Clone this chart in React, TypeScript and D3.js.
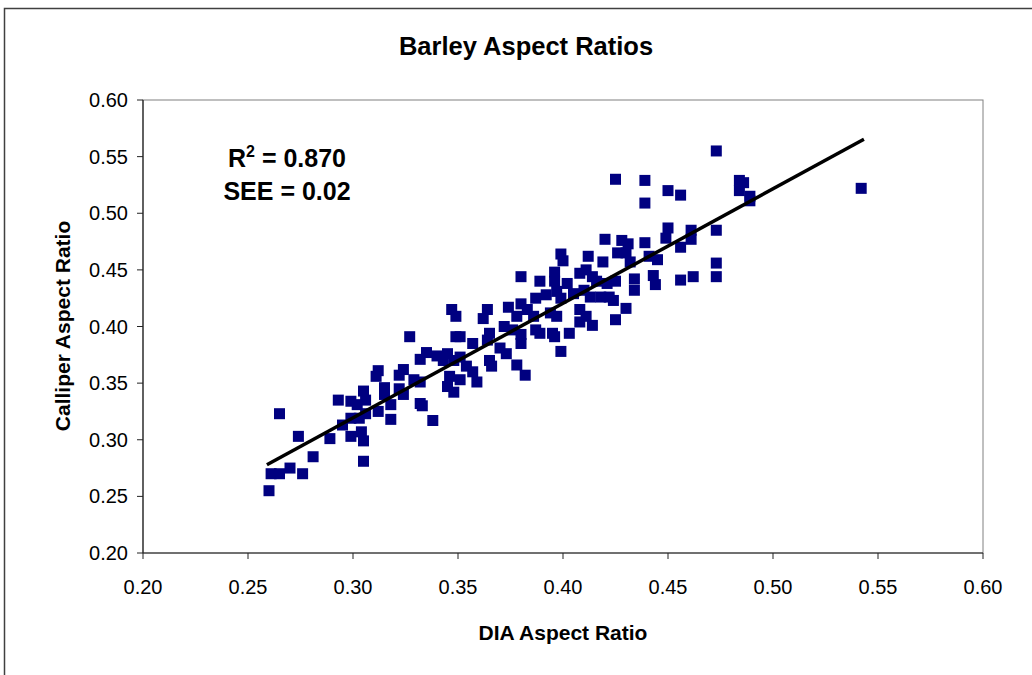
import * as d3 from 'd3';

// DIA aspect ratio (x) and calliper aspect ratio (y)
const dia = [
	0.420, 0.428, 0.431, 0.439, 0.441, 0.399, 0.400, 0.412, 0.419, 0.426, 0.430, 0.432,
	0.380, 0.389, 0.396, 0.396, 0.402, 0.408, 0.411, 0.414, 0.416, 0.421, 0.425, 0.434,
	0.434, 0.443, 0.444, 0.387, 0.392, 0.397, 0.399, 0.405, 0.410, 0.413, 0.418, 0.422,
	0.424, 0.430, 0.347, 0.349, 0.364, 0.362, 0.374, 0.380, 0.378, 0.383, 0.394, 0.397,
	0.386, 0.408, 0.411, 0.408, 0.414, 0.425, 0.372, 0.365, 0.364, 0.349, 0.351, 0.357,
	0.376, 0.380, 0.387, 0.389, 0.395, 0.396, 0.403, 0.380, 0.373, 0.370, 0.399, 0.345,
	0.351, 0.348, 0.343, 0.354, 0.357, 0.346, 0.351, 0.359, 0.365, 0.366, 0.378, 0.382,
	0.345, 0.348,
	0.327, 0.335, 0.332, 0.340, 0.312, 0.311, 0.322, 0.324, 0.329, 0.332, 0.315, 0.315,
	0.322, 0.324, 0.305, 0.293, 0.299, 0.306, 0.302, 0.318, 0.312, 0.332, 0.333, 0.265,
	0.318, 0.338, 0.295, 0.299, 0.303, 0.306, 0.299, 0.304, 0.305, 0.289, 0.274, 0.281,
	0.305, 0.261, 0.265, 0.270, 0.276, 0.260,
	0.473, 0.425, 0.439, 0.450, 0.456, 0.439, 0.484, 0.486, 0.484, 0.489, 0.489, 0.450,
	0.449, 0.461, 0.461, 0.473, 0.456, 0.445, 0.473, 0.456, 0.462, 0.473, 0.542,
];
const calliper = [
	0.477, 0.476, 0.473, 0.474, 0.462, 0.464, 0.458, 0.462, 0.457, 0.465, 0.465, 0.457,
	0.444, 0.440, 0.448, 0.440, 0.438, 0.447, 0.450, 0.444, 0.440, 0.438, 0.440, 0.442,
	0.432, 0.445, 0.437, 0.425, 0.428, 0.431, 0.425, 0.429, 0.432, 0.426, 0.426, 0.426,
	0.423, 0.416, 0.415, 0.409, 0.415, 0.407, 0.417, 0.420, 0.409, 0.415, 0.412, 0.409,
	0.409, 0.415, 0.409, 0.404, 0.401, 0.406, 0.400, 0.394, 0.388, 0.391, 0.391, 0.385,
	0.397, 0.393, 0.397, 0.394, 0.394, 0.391, 0.394, 0.385, 0.376, 0.381, 0.378, 0.376,
	0.373, 0.370, 0.370, 0.365, 0.360, 0.356, 0.353, 0.351, 0.370, 0.365, 0.366, 0.357,
	0.347, 0.342,
	0.391, 0.377, 0.371, 0.374, 0.361, 0.356, 0.357, 0.362, 0.353, 0.351, 0.346, 0.340,
	0.345, 0.340, 0.343, 0.335, 0.334, 0.335, 0.331, 0.331, 0.325, 0.332, 0.330, 0.323,
	0.318, 0.317, 0.313, 0.319, 0.319, 0.323, 0.303, 0.307, 0.299, 0.301, 0.303, 0.285,
	0.281, 0.270, 0.270, 0.275, 0.270, 0.255,
	0.555, 0.530, 0.529, 0.520, 0.516, 0.509, 0.529, 0.527, 0.520, 0.511, 0.515, 0.487,
	0.478, 0.485, 0.477, 0.485, 0.470, 0.459, 0.456, 0.441, 0.444, 0.444, 0.522,
];

// trend line ends
const trendX = [0.259, 0.5433];
const trendY = [0.278, 0.5653];

const xTicks = [0.20, 0.25, 0.30, 0.35, 0.40, 0.45, 0.50, 0.55, 0.60];
const yTicks = [0.20, 0.25, 0.30, 0.35, 0.40, 0.45, 0.50, 0.55, 0.60];

const font = '"Liberation Sans", Arial, sans-serif';

export default function App() {

	const x = d3.scaleLinear().domain([0.2, 0.6]).range([143, 983]);
	const y = d3.scaleLinear().domain([0.2, 0.6]).range([553, 100]);

	const points = dia.map((d, i) => ({ x: d, y: calliper[i] }));
	const trend = trendX.map((d, i) => ({ x: d, y: trendY[i] }));

	const line = d3.line<{ x: number, y: number }>()
		.x(d => x(d.x))
		.y(d => y(d.y));

	const size = 11;

	return (
		<svg
			width={1032}
			height={675}
			style={{ position: 'absolute', left: 0, top: 0, background: '#fff' }}
			fontFamily={font}
		>
			<rect x={4.5} y={8.5} width={1060} height={700} fill="#fff" stroke="#404040" strokeWidth={1.5} />

			<text x={526} y={55} textAnchor="middle" fontSize={25.5} fontWeight="bold">Barley Aspect Ratios</text>

			{/* plot area border */}
			<rect x={143} y={100} width={840} height={453} fill="none" stroke="#808080" strokeWidth={1} />

			{/* y axis */}
			<line x1={143} x2={143} y1={100} y2={553} stroke="#222" strokeWidth={1.2} />
			{yTicks.map(t => (
				<g key={'y' + t}>
					<line x1={137} x2={143} y1={y(t)} y2={y(t)} stroke="#222" />
					<text x={128} y={y(t)} dy="0.35em" textAnchor="end" fontSize={20}>{t.toFixed(2)}</text>
				</g>
			))}

			{/* x axis */}
			<line x1={143} x2={983} y1={553} y2={553} stroke="#222" strokeWidth={1.2} />
			{xTicks.map(t => (
				<g key={'x' + t}>
					<line x1={x(t)} x2={x(t)} y1={553} y2={559} stroke="#222" />
					<text x={x(t)} y={594} textAnchor="middle" fontSize={20}>{t.toFixed(2)}</text>
				</g>
			))}

			<text x={563} y={640} textAnchor="middle" fontSize={21} fontWeight="bold">DIA Aspect Ratio</text>
			<text transform="translate(70,326) rotate(-90)" textAnchor="middle" fontSize={21} fontWeight="bold">Calliper Aspect Ratio</text>

			{points.map((p, i) => (
				<rect key={i} x={x(p.x) - size / 2} y={y(p.y) - size / 2} width={size} height={size} fill="#000080" />
			))}

			<path d={line(trend) ?? ''} fill="none" stroke="#000" strokeWidth={3.5} />

			<text x={287} y={167} textAnchor="middle" fontSize={25} fontWeight="bold">
				R<tspan dy={-10} fontSize={16}>2</tspan><tspan dy={10}> = 0.870</tspan>
			</text>
			<text x={287} y={200} textAnchor="middle" fontSize={25} fontWeight="bold">SEE = 0.02</text>
		</svg>
	);
}
